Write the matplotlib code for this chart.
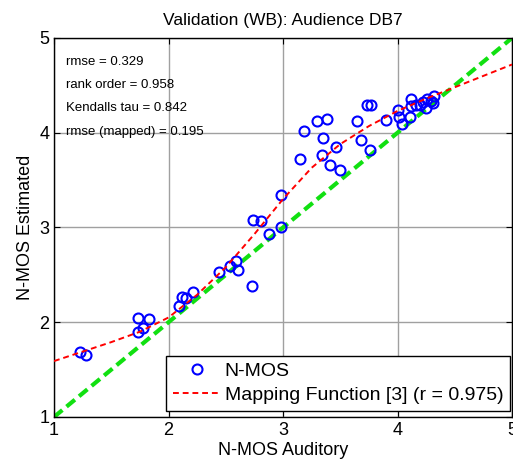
import numpy as np
import matplotlib
matplotlib.use("Agg")
import matplotlib.pyplot as plt

plt.rcParams['font.family'] = ['Liberation Sans', 'DejaVu Sans']

# auditory vs. estimated scores
auditory = [1.23, 1.28, 1.73, 1.73, 1.78, 1.83, 2.09, 2.12, 2.15, 2.21,
            2.44, 2.54, 2.59, 2.61, 2.73, 2.74, 2.81, 2.88, 2.98, 2.98,
            3.15, 3.18, 3.30, 3.38, 3.35, 3.34, 3.46, 3.41, 3.50, 3.65,
            3.68, 3.73, 3.77, 3.76, 3.90, 4.00, 4.01, 4.04, 4.11, 4.12,
            4.12, 4.16, 4.20, 4.25, 4.26, 4.29, 4.32, 4.31, 4.22]
estimated = [1.69, 1.65, 2.04, 1.90, 1.94, 2.03, 2.17, 2.27, 2.26, 2.32,
             2.53, 2.59, 2.65, 2.55, 2.38, 3.08, 3.07, 2.93, 3.00, 3.34,
             3.72, 4.02, 4.12, 4.14, 3.94, 3.77, 3.85, 3.66, 3.61, 4.12,
             3.92, 4.29, 4.29, 3.82, 4.13, 4.24, 4.17, 4.09, 4.17, 4.36,
             4.28, 4.29, 4.29, 4.26, 4.36, 4.33, 4.39, 4.31, 4.32]

# mapping function sampled along the auditory axis
map_x = [1.00, 1.25, 1.50, 1.75, 2.00, 2.25, 2.50, 2.75, 3.00,
         3.25, 3.50, 3.75, 4.00, 4.25, 4.50, 4.75, 5.00]
map_y = [1.59, 1.69, 1.79, 1.90, 2.05, 2.29, 2.58, 2.93, 3.30,
         3.63, 3.88, 4.07, 4.23, 4.36, 4.48, 4.60, 4.72]

stats = ["rmse = 0.329", "rank order = 0.958",
         "Kendalls tau = 0.842", "rmse (mapped) = 0.195"]

fig = plt.figure(figsize=(5.13, 4.66), dpi=100)
ax = fig.add_axes([0.1053, 0.1052, 0.8928, 0.8133])

ax.plot([1, 5], [1, 5], color='#11e011', lw=3, ls=(0, (2.6, 1.3)), zorder=2)
ax.plot(auditory, estimated, 'o', mfc='none', mec='#0000ff', ms=7.2, mew=1.5,
        label='N-MOS', zorder=3)
ax.plot(map_x, map_y, color='#ff0000', lw=1.4, ls=(0, (3, 2)),
        label='Mapping Function [3] (r = 0.975)', zorder=4)

ax.set_xlim(1, 5)
ax.set_ylim(1, 5)
ax.set_xticks([1, 2, 3, 4, 5])
ax.set_yticks([1, 2, 3, 4, 5])
ax.grid(True, color='#a0a0a0', lw=1)
ax.tick_params(direction='in', length=4, top=True, right=True, labelsize=13)
for s in ax.spines.values():
    s.set_linewidth(1)

for i, t in enumerate(stats):
    ax.text(0.026, 0.9375 - i * 0.0615, t, transform=ax.transAxes,
            fontsize=9.5, va='center', ha='left')

ax.set_title('Validation (WB): Audience DB7', fontsize=12.5, pad=9)
ax.set_xlabel('N-MOS Auditory', fontsize=13, labelpad=2)
ax.set_ylabel('N-MOS Estimated', fontsize=13, labelpad=4)

leg = ax.legend(loc='lower right', bbox_to_anchor=(0.996, 0.016),
                borderaxespad=0, fontsize=14, fancybox=False,
                framealpha=1, edgecolor='black', borderpad=0.35,
                handlelength=2.4, handletextpad=0.25, labelspacing=0.33)
leg.get_frame().set_linewidth(1)

fig.savefig('out.png', dpi=100)
